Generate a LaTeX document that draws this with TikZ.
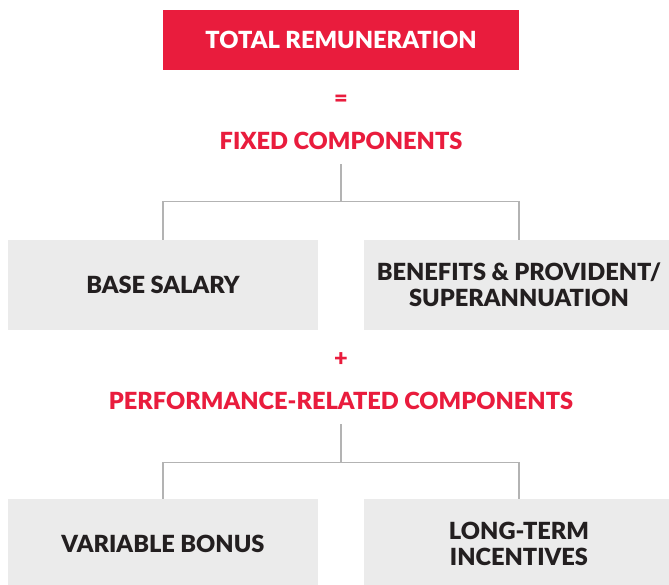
\documentclass[tikz,border=0pt]{standalone}
\usepackage{fontspec}
\setmainfont{Lato}[BoldFont={Lato Black}]
\definecolor{remred}{HTML}{E91C3D}
\definecolor{boxgray}{HTML}{EBEBEB}
\definecolor{linegray}{HTML}{B3B3B3}
\definecolor{textdark}{HTML}{231F20}
\newcommand{\capfont}{\bfseries\fontsize{23.6}{26}\selectfont}
\tikzset{
  redbox/.style={fill=remred, text=white, font=\capfont, inner sep=0pt,
    minimum width=356pt, minimum height=60pt},
  greybox/.style={fill=boxgray, text=textdark, font=\capfont, align=center,
    inner sep=0pt, minimum width=310pt, minimum height=90pt},
  redtext/.style={text=remred, font=\capfont, inner sep=0pt,
    text height=17pt, text depth=0pt, minimum height=46pt},
  branch/.style={draw=linegray, line width=1.3pt}
}
\begin{document}
\begin{tikzpicture}[x=1pt, y=-1pt]
    \useasboundingbox (0, 0) rectangle (669, 585) ;
    \node[redbox] (total) at (341, 40) {TOTAL REMUNERATION} ;
    \node[redtext] (equals) at (341, 98) {=} ;
    \node[redtext] (fixed) at (341, 141) {FIXED COMPONENTS} ;
    \node[greybox] (base) at (163, 285) {BASE SALARY} ;
    \node[greybox] (benefits) at (519, 285) {BENEFITS \& PROVIDENT/\\SUPERANNUATION} ;
    \node[redtext] (plus) at (341, 358) {+} ;
    \node[redtext] (perf) at (341, 401) {PERFORMANCE-RELATED COMPONENTS} ;
    \node[greybox] (bonus) at (163, 544) {VARIABLE BONUS} ;
    \node[greybox] (lti) at (519, 544) {LONG-TERM\\INCENTIVES} ;
    % fixed part
    \draw[branch] (fixed.south) -- ++(0, 37) coordinate (fixjoin) ;
    \draw[branch] (fixjoin) -| (base.north) ;
    \draw[branch] (fixjoin) -| (benefits.north) ;
    % performance part
    \draw[branch] (perf.south) -- ++(0, 38) coordinate (perfjoin) ;
    \draw[branch] (perfjoin) -| (bonus.north) ;
    \draw[branch] (perfjoin) -| (lti.north) ;
\end{tikzpicture}
\end{document}
